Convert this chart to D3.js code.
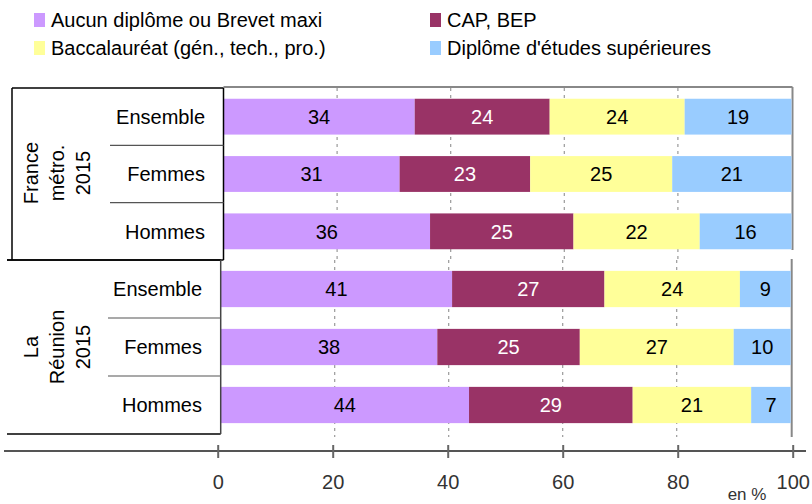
<!DOCTYPE html>
<html>
<head>
<meta charset="utf-8">
<script src="https://cdn.jsdelivr.net/npm/d3@7"></script>
<style>
  body { margin: 0; background: #fff; }
  svg { display: block; font-family: "Liberation Sans", Arial, sans-serif; }
</style>
</head>
<body>
<svg id="chart"></svg>
<script>
// data (percent)
const categories = ["Aucun diplôme ou Brevet maxi", "CAP, BEP", "Baccalauréat (gén., tech., pro.)", "Diplôme d'études supérieures"];
const colors = ["#CC99FF", "#993366", "#FFFF99", "#99CCFF"];
const rowLabels = ["Ensemble", "Femmes", "Hommes"];
const franceValues = [[34, 24, 24, 19], [31, 23, 25, 21], [36, 25, 22, 16]];
const reunionValues = [[41, 27, 24, 9], [38, 25, 27, 10], [44, 29, 21, 7]];
const groupLabels = [["France", "métro.", "2015"], ["La", "Réunion", "2015"]];
const xTicks = [0, 20, 40, 60, 80, 100];

const width = 812, height = 504;

const svg = d3.select("#chart")
  .attr("width", width)
  .attr("height", height);

// legend
const legendPos = [[34, 20], [430, 20], [34, 48], [430, 48]];
const legend = svg.append("g").selectAll("g")
  .data(categories)
  .join("g")
  .attr("transform", (d, i) => `translate(${legendPos[i][0]},${legendPos[i][1]})`);
legend.append("rect")
  .attr("x", 0).attr("y", -7)
  .attr("width", 11).attr("height", 14)
  .attr("fill", (d, i) => colors[i]);
legend.append("text")
  .attr("x", 17).attr("dy", "0.36em")
  .attr("font-size", 20)
  .attr("fill", "#000")
  .text(d => d);

const panels = [
  {values: franceValues, group: groupLabels[0], x0: 223.5, x1: 791.5, y0: 88, y1: 260,
   tableLeft: 12, bottomLeft: 7, sepLeft: 110, labelX: 205, groupY: 173, leftBorder: true},
  {values: reunionValues, group: groupLabels[1], x0: 220.7, x1: 790.7, y0: 260, y1: 434,
   tableLeft: 7, bottomLeft: 7, sepLeft: 108, labelX: 202, groupY: 347, leftBorder: false}
];

const stack = d3.stack()
  .keys(d3.range(categories.length))
  .offset(d3.stackOffsetExpand);

panels.forEach((p, pi) => {
  const x = d3.scaleLinear().domain([0, 1]).range([p.x0, p.x1]);
  const y = d3.scaleBand().domain(rowLabels).range([p.y0, p.y1])
    .paddingInner(0.375).paddingOuter(0.1875);
  const g = svg.append("g");

  // dashed grid
  g.append("g").selectAll("line")
    .data(xTicks.slice(1, -1))
    .join("line")
    .attr("x1", d => x(d / 100)).attr("x2", d => x(d / 100))
    .attr("y1", p.y0).attr("y2", pi === 1 ? p.y1 + 3 : p.y1)
    .attr("stroke", "#999").attr("stroke-width", 1.2)
    .attr("stroke-dasharray", "3,4");

  // frame of plot area
  if (pi === 0) {
    g.append("line").attr("x1", p.x0).attr("x2", p.x1 + 1).attr("y1", p.y0 - 1).attr("y2", p.y0 - 1)
      .attr("stroke", "#888").attr("stroke-width", 2);
  }
  g.append("line").attr("x1", p.x1 + 1).attr("x2", p.x1 + 1)
    .attr("y1", p.y0 - 1).attr("y2", pi === 1 ? p.y1 + 3 : p.y1 - 10)
    .attr("stroke", "#888").attr("stroke-width", 2);

  const series = stack(p.values);
  const layer = g.append("g").selectAll("g")
    .data(series)
    .join("g")
    .attr("fill", (d, i) => colors[i]);
  layer.selectAll("rect")
    .data(d => d.map((s, j) => ({s, row: rowLabels[j]})))
    .join("rect")
    .attr("x", d => x(d.s[0]))
    .attr("width", d => x(d.s[1]) - x(d.s[0]))
    .attr("y", d => y(d.row))
    .attr("height", y.bandwidth());

  const labels = g.append("g").selectAll("g")
    .data(series)
    .join("g")
    .attr("fill", (d, i) => i === 1 ? "#fff" : "#000");
  labels.selectAll("text")
    .data((d) => d.map((s, j) => ({s, row: rowLabels[j], v: p.values[j][d.key]})))
    .join("text")
    .attr("x", d => (x(d.s[0]) + x(d.s[1])) / 2)
    .attr("y", d => y(d.row) + y.bandwidth() / 2)
    .attr("dy", "0.36em")
    .attr("text-anchor", "middle")
    .attr("font-size", 20)
    .text(d => d.v);

  // table on the left
  const t = svg.append("g").attr("stroke", "#000").attr("stroke-width", 1.5);
  t.append("line").attr("x1", p.tableLeft).attr("x2", p.x0).attr("y1", p.y0).attr("y2", p.y0);
  t.append("line").attr("x1", p.bottomLeft).attr("x2", p.x0).attr("y1", p.y1).attr("y2", p.y1);
  t.append("line").attr("x1", p.x0).attr("x2", p.x0).attr("y1", p.y0).attr("y2", p.y1)
    .attr("stroke", pi === 1 ? "#444" : "#000");
  if (p.leftBorder) {
    t.append("line").attr("x1", p.tableLeft).attr("x2", p.tableLeft).attr("y1", p.y0).attr("y2", p.y1);
  }
  const sep = d3.scaleLinear().domain([0, rowLabels.length]).range([p.y0, p.y1]);
  t.selectAll(".sep")
    .data(d3.range(1, rowLabels.length))
    .join("line")
    .attr("stroke", "#555").attr("stroke-width", 1.2)
    .attr("x1", p.sepLeft).attr("x2", p.x0)
    .attr("y1", d => sep(d)).attr("y2", d => sep(d));

  svg.append("g").selectAll("text")
    .data(rowLabels)
    .join("text")
    .attr("x", p.labelX)
    .attr("y", d => sep(rowLabels.indexOf(d) + 0.5))
    .attr("dy", "0.36em")
    .attr("text-anchor", "end")
    .attr("font-size", 20)
    .text(d => d);

  const gl = svg.append("text")
    .attr("transform", `translate(57,${p.groupY}) rotate(-90)`)
    .attr("text-anchor", "middle")
    .attr("font-size", 20);
  gl.selectAll("tspan")
    .data(p.group)
    .join("tspan")
    .attr("x", 0)
    .attr("y", (d, i) => (i - 1) * 26 + 7)
    .text(d => d);
});

// bottom axis
const xAxisScale = d3.scaleLinear().domain([0, 100]).range([217.7, 792.7]);
svg.append("line")
  .attr("x1", 4).attr("x2", 806)
  .attr("y1", 451).attr("y2", 451)
  .attr("stroke", "#555").attr("stroke-width", 2);
const axis = svg.append("g")
  .attr("transform", "translate(0,445)")
  .call(d3.axisBottom(xAxisScale).tickValues(xTicks).tickSize(13).tickPadding(17));
axis.select(".domain").remove();
axis.selectAll(".tick line").attr("stroke", "#666").attr("stroke-width", 2);
axis.selectAll(".tick text")
  .attr("font-size", 20)
  .attr("font-family", "'Liberation Sans', Arial, sans-serif")
  .attr("fill", "#333");

svg.append("text")
  .attr("x", 747).attr("y", 500)
  .attr("text-anchor", "middle")
  .attr("font-size", 17)
  .attr("fill", "#333")
  .text("en %");
</script>
</body>
</html>
